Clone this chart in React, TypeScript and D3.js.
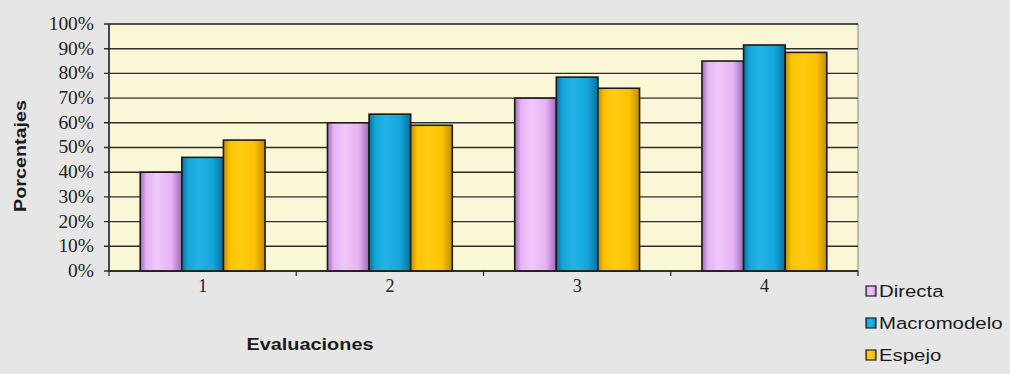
import React from "react";
import * as d3 from "d3";

const categories = ["1", "2", "3", "4"];
const seriesNames = ["Directa", "Macromodelo", "Espejo"];
const directa = [0.40, 0.60, 0.70, 0.85];
const macromodelo = [0.46, 0.635, 0.785, 0.915];
const espejo = [0.53, 0.59, 0.74, 0.885];
const yTicks = [0, 0.1, 0.2, 0.3, 0.4, 0.5, 0.6, 0.7, 0.8, 0.9, 1.0];

const seriesValues = [directa, macromodelo, espejo];
const colors = [
  { edge: "#9a6cb4", mid: "#e6b2f4", light: "#f0c8fa" },
  { edge: "#08709c", mid: "#14a6da", light: "#22b4e6" },
  { edge: "#c08c00", mid: "#fcc200", light: "#ffcc14" },
];

const W = 1010;
const H = 374;
const plotLeft = 109;
const plotRight = 858;
const plotTop = 24;
const plotBottom = 271;

export default function App() {
  const y = d3.scaleLinear().domain([0, 1]).range([plotBottom, plotTop]);
  const x0 = d3
    .scaleBand<string>()
    .domain(categories)
    .range([plotLeft, plotRight])
    .paddingInner(1 / 3)
    .paddingOuter(1 / 6);
  const x1 = d3
    .scaleBand<string>()
    .domain(seriesNames)
    .range([0, x0.bandwidth()]);
  const step = x0.step();
  const boundaries = d3.range(categories.length + 1).map((i) => plotLeft + i * step);
  const fmt = d3.format(".0%");

  return (
    <svg
      width={W}
      height={H}
      style={{ position: "absolute", left: 0, top: 0, background: "#e6e6e6" }}
    >
      <defs>
        {colors.map((c, i) => (
          <linearGradient key={i} id={`g${i}`} x1="0" x2="1" y1="0" y2="0">
            <stop offset="0" stopColor={c.edge} />
            <stop offset="0.15" stopColor={c.mid} />
            <stop offset="0.4" stopColor={c.light} />
            <stop offset="0.75" stopColor={c.mid} />
            <stop offset="1" stopColor={c.edge} />
          </linearGradient>
        ))}
      </defs>
      <rect x={0} y={0} width={W} height={H} fill="#e6e6e6" />
      {/* plot area */}
      <rect
        x={plotLeft}
        y={plotTop}
        width={plotRight - plotLeft}
        height={plotBottom - plotTop}
        fill="#f9f7d6"
        stroke="#8a8a8a"
        strokeWidth={1}
      />
      {/* gridlines */}
      {yTicks.map((t) => (
        <line
          key={t}
          x1={plotLeft - 5}
          x2={plotRight}
          y1={y(t)}
          y2={y(t)}
          stroke="#2e2e2e"
          strokeWidth={1.4}
        />
      ))}
      {/* y labels */}
      {yTicks.map((t) => (
        <text
          key={"l" + t}
          x={94}
          y={y(t) + 6}
          textAnchor="end"
          fontFamily="Liberation Serif, Times New Roman, serif"
          fontSize={18}
          fill="#222"
          transform={`translate(94,0) scale(1.08,1) translate(-94,0)`}
        >
          {fmt(t)}
        </text>
      ))}
      {/* bars */}
      {categories.map((cat, ci) => (
        <g key={cat} transform={`translate(${x0(cat)},0)`}>
          {seriesNames.map((s, si) => (
            <rect
              key={s}
              x={x1(s)}
              y={y(seriesValues[si][ci])}
              width={x1.bandwidth()}
              height={plotBottom - y(seriesValues[si][ci])}
              fill={`url(#g${si})`}
              stroke="#1a1a1a"
              strokeWidth={1.6}
            />
          ))}
        </g>
      ))}
      {/* axes */}
      <line x1={plotLeft} x2={plotLeft} y1={plotTop} y2={plotBottom} stroke="#222" strokeWidth={1.5} />
      <line x1={plotLeft} x2={plotRight} y1={plotBottom} y2={plotBottom} stroke="#222" strokeWidth={1.5} />
      {boundaries.map((b, i) => (
        <line key={"b" + i} x1={b} x2={b} y1={plotBottom} y2={plotBottom + 5} stroke="#222" strokeWidth={1.2} />
      ))}
      {/* x labels */}
      {categories.map((cat) => (
        <text
          key={"x" + cat}
          x={(x0(cat) as number) + x0.bandwidth() / 2}
          y={292}
          textAnchor="middle"
          fontFamily="Liberation Serif, Times New Roman, serif"
          fontSize={18}
          fill="#222"
        >
          {cat}
        </text>
      ))}
      {/* axis titles */}
      <text
        x={310}
        y={350}
        textAnchor="middle"
        fontFamily="Liberation Sans, Arial, sans-serif"
        fontWeight="bold"
        fontSize={17}
        fill="#1a1a1a"
        textLength={127}
        lengthAdjust="spacingAndGlyphs"
      >
        Evaluaciones
      </text>
      <text
        transform={`translate(26,156) rotate(-90)`}
        textAnchor="middle"
        fontFamily="Liberation Sans, Arial, sans-serif"
        fontWeight="bold"
        fontSize={17}
        fill="#1a1a1a"
        textLength={112}
        lengthAdjust="spacingAndGlyphs"
      >
        Porcentajes
      </text>
      {/* legend */}
      {seriesNames.map((s, i) => (
        <g key={"lg" + s} transform={`translate(866,${286 + i * 32})`}>
          <rect x={0} y={0} width={10} height={10} fill={`url(#g${i})`} stroke="#222" strokeWidth={1.2} />
          <text
            x={13}
            y={11}
            fontFamily="Liberation Sans, Arial, sans-serif"
            fontSize={17}
            fill="#1a1a1a"
            transform={`translate(13,0) scale(1.2,1) translate(-13,0)`}
          >
            {s}
          </text>
        </g>
      ))}
    </svg>
  );
}
